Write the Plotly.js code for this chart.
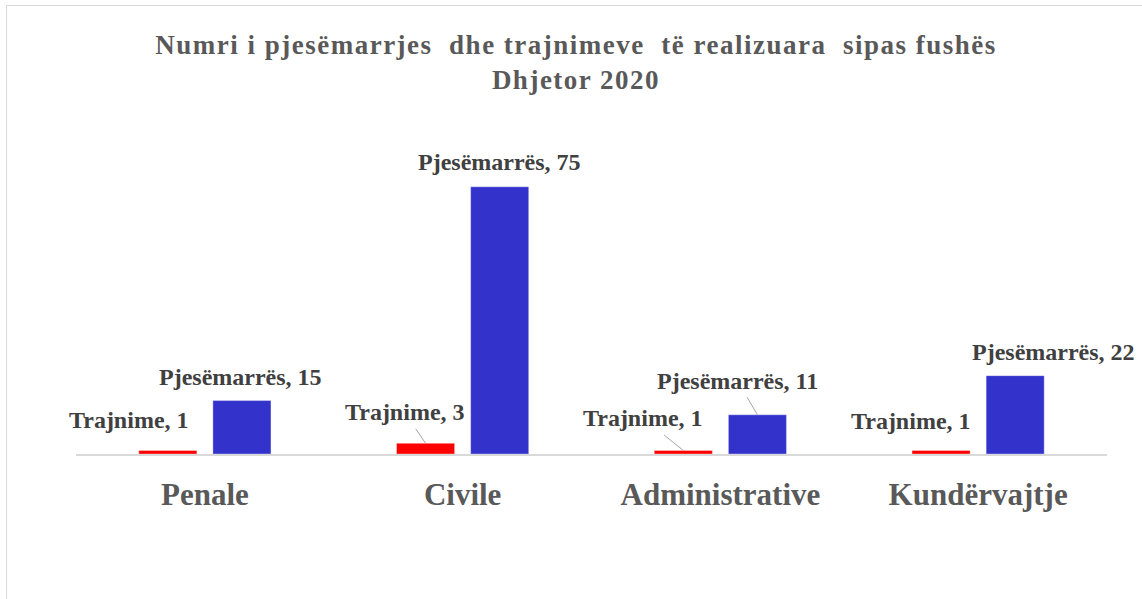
<!DOCTYPE html>
<html>
<head>
<meta charset="utf-8">
<script src="https://cdn.plot.ly/plotly-3.0.1.min.js"></script>
<style>
  html, body { margin: 0; padding: 0; background: #ffffff; overflow: hidden; }
  #frame { position: absolute; left: 6px; top: 5px; width: 1136px; height: 594px;
           border-left: 1.5px solid #d9d9d9; border-top: 1.5px solid #d9d9d9;
           background: #ffffff; box-sizing: border-box; }
  #chart { position: absolute; left: 0; top: 0; width: 1142px; height: 599px; }
  .gtitle { letter-spacing: 1.5px; }
</style>
</head>
<body>
<div id="frame"></div>
<div id="chart"></div>
<script>
// ---- data ----
const categories = ['Penale', 'Civile', 'Administrative', 'Kundërvajtje'];
const seriesNames = ['Trajnime', 'Pjesëmarrës'];
const trajnime = [1, 3, 1, 1];
const pjesemarres = [15, 75, 11, 22];

// ---- layout config (label offsets in px, leader line visibility) ----
const BARGAP = 0.425, BARGROUPGAP = 0.216;
const labelCfg = [
  // Trajnime
  [ {ax: -39, ay: -30, line: false}, {ax: -21, ay: -31, line: true},
    {ax: -40, ay: -32, line: true},  {ax: -30, ay: -29, line: false} ],
  // Pjesëmarrës
  [ {ax: -1, ay: -24, line: false},  {ax: 0, ay: -25, line: false},
    {ax: -20, ay: -34, line: true},  {ax: 38, ay: -24, line: false} ]
];

const FONT = '"Liberation Serif", "Times New Roman", serif';
const colors = ['#ff0000', '#3333cc'];
const seriesData = [trajnime, pjesemarres];

const traces = seriesData.map((vals, s) => ({
  type: 'bar',
  name: seriesNames[s],
  x: categories,
  y: vals,
  marker: { color: colors[s], line: { color: 'rgba(255,255,255,0.35)', width: 1 } },
  hoverinfo: 'x+y+name'
}));

const slotOffset = (1 - BARGAP) / 4;
const annotations = [];
seriesData.forEach((vals, s) => {
  vals.forEach((v, i) => {
    const cfg = labelCfg[s][i];
    annotations.push({
      x: i + (s === 0 ? -slotOffset : slotOffset),
      y: v,
      xref: 'x', yref: 'y',
      text: seriesNames[s] + ', ' + v,
      showarrow: true,
      arrowhead: 0,
      arrowwidth: cfg.line ? 1 : 0.1,
      arrowcolor: cfg.line ? '#a6a6a6' : 'rgba(0,0,0,0)',
      standoff: 0,
      borderpad: 3,
      ax: cfg.ax, ay: cfg.ay,
      font: { family: FONT, size: 24, color: '#404040', weight: 'bold' }
    });
  });
});

const layout = {
  width: 1142, height: 599,
  paper_bgcolor: 'rgba(0,0,0,0)',
  plot_bgcolor: 'rgba(0,0,0,0)',
  margin: { l: 76, r: 35, t: 169, b: 145 },
  barmode: 'group',
  bargap: BARGAP,
  bargroupgap: BARGROUPGAP,
  showlegend: false,
  title: {
    text: 'Numri i pjesëmarrjes \u00a0dhe trajnimeve \u00a0të realizuara \u00a0sipas fushës<br>Dhjetor 2020',
    font: { family: FONT, size: 27, color: '#595959', weight: 'bold' },
    x: 576 / 1142, xanchor: 'center', xref: 'container',
    y: 1 - 54 / 599, yanchor: 'top', yref: 'container'
  },
  xaxis: {
    type: 'category',
    range: [-0.5, categories.length - 0.5],
    autorange: false,
    showline: true, linecolor: '#d9d9d9', linewidth: 2,
    showgrid: false, zeroline: false,
    ticks: '', ticklabelstandoff: 12,
    tickfont: { family: FONT, size: 31, color: '#595959', weight: 'bold' },
    fixedrange: true
  },
  yaxis: {
    range: [0, 80],
    autorange: false,
    visible: false,
    showgrid: false, zeroline: false,
    fixedrange: true
  },
  annotations: annotations
};

Plotly.newPlot('chart', traces, layout, { displayModeBar: false, staticPlot: true });
</script>
</body>
</html>
